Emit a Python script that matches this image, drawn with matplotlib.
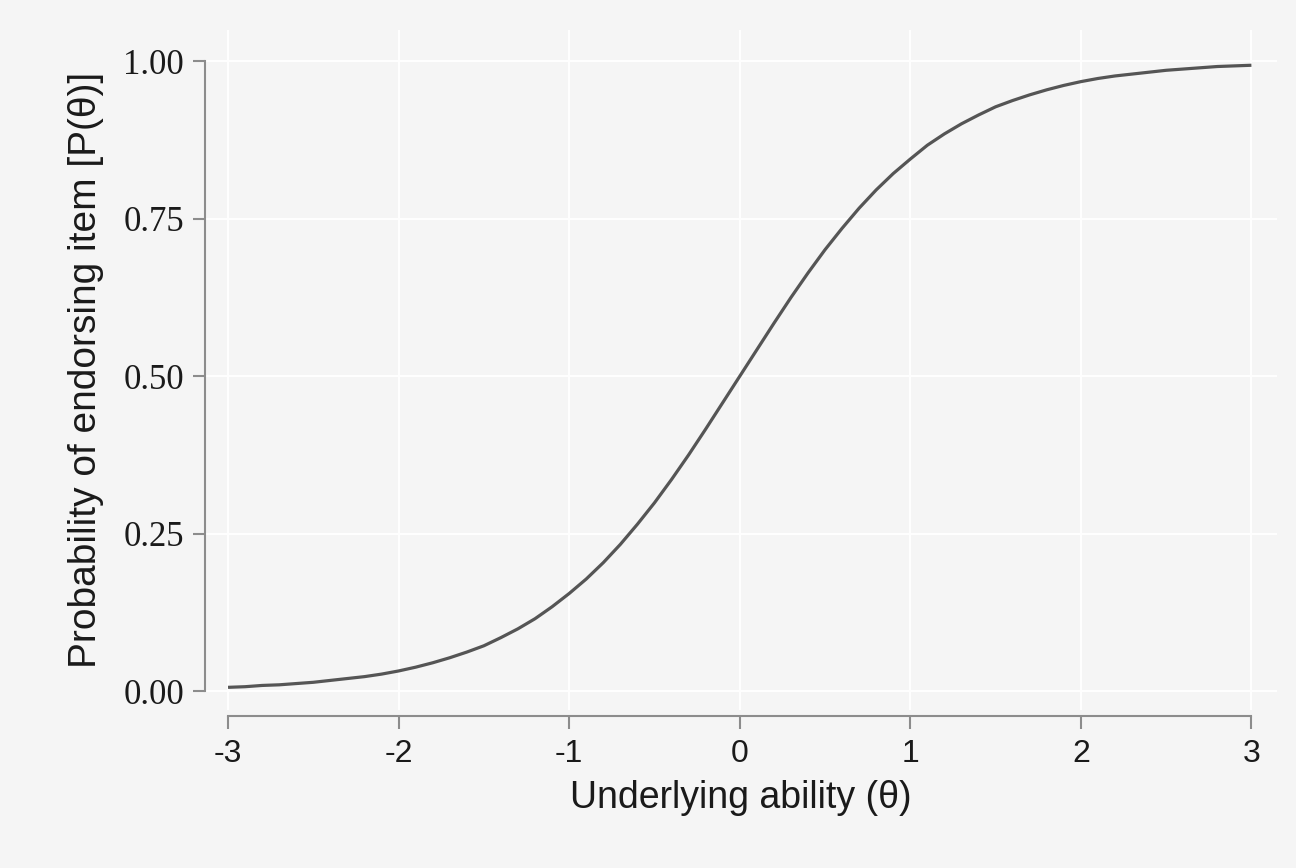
"""
Item characteristic curve (2PL, a = 1.7, b = 0)
"""
import matplotlib
matplotlib.use('Agg')
import matplotlib.pyplot as plt

plt.rcParams['axes.unicode_minus'] = False

BG = '#f5f5f5'
LINE = '#555555'
AXIS = '#8c8c8c'
TEXT = '#1a1a1a'

# values
theta = [-3.0, -2.9, -2.8, -2.7, -2.6, -2.5, -2.4, -2.3, -2.2, -2.1, -2.0,
         -1.9, -1.8, -1.7, -1.6, -1.5, -1.4, -1.3, -1.2, -1.1, -1.0,
         -0.9, -0.8, -0.7, -0.6, -0.5, -0.4, -0.3, -0.2, -0.1, 0.0,
         0.1, 0.2, 0.3, 0.4, 0.5, 0.6, 0.7, 0.8, 0.9, 1.0,
         1.1, 1.2, 1.3, 1.4, 1.5, 1.6, 1.7, 1.8, 1.9, 2.0,
         2.1, 2.2, 2.3, 2.4, 2.5, 2.6, 2.7, 2.8, 2.9, 3.0]
prob = [0.006, 0.007, 0.009, 0.010, 0.012, 0.014, 0.017, 0.020, 0.023, 0.027, 0.032,
        0.038, 0.045, 0.053, 0.062, 0.072, 0.085, 0.099, 0.115, 0.134, 0.155,
        0.178, 0.204, 0.233, 0.265, 0.299, 0.336, 0.375, 0.416, 0.458, 0.500,
        0.542, 0.584, 0.625, 0.664, 0.701, 0.735, 0.767, 0.796, 0.822, 0.845,
        0.867, 0.885, 0.901, 0.915, 0.928, 0.938, 0.947, 0.955, 0.962, 0.968,
        0.973, 0.977, 0.980, 0.983, 0.986, 0.988, 0.990, 0.992, 0.993, 0.994]

x_ticks = [-3, -2, -1, 0, 1, 2, 3]
y_ticks = [0.0, 0.25, 0.50, 0.75, 1.00]
y_tick_labels = ['0.00', '0.25', '0.50', '0.75', '1.00']

fig = plt.figure(figsize=(12.96, 8.68), dpi=100)
fig.patch.set_facecolor(BG)
ax = fig.add_axes([205 / 1296, 1 - 710 / 868, 1072 / 1296, 680 / 868])
ax.set_facecolor(BG)

ax.set_xlim(-3.135, 3.15)
ax.set_ylim(-0.03, 1.05)

# grid
ax.set_xticks(x_ticks)
ax.set_yticks(y_ticks)
ax.set_yticklabels(y_tick_labels)
ax.grid(True, color='white', linewidth=1.3, zorder=0)
ax.set_axisbelow(True)

ax.plot(theta, prob, color=LINE, linewidth=2.3, solid_joinstyle='round',
        solid_capstyle='butt', zorder=3)

# range-frame spines
for s in ['top', 'right']:
    ax.spines[s].set_visible(False)
ax.spines['left'].set_bounds(0, 1)
ax.spines['bottom'].set_bounds(-3, 3)
ax.spines['bottom'].set_position(('outward', 4))
for s in ['left', 'bottom']:
    ax.spines[s].set_color(AXIS)
    ax.spines[s].set_linewidth(1.5)

ax.tick_params(axis='both', colors=AXIS, length=9, width=1.5)
ax.tick_params(axis='y', pad=6, labelcolor=TEXT)
ax.tick_params(axis='x', pad=8, labelcolor=TEXT)
for lab in ax.get_yticklabels():
    lab.set_fontfamily('Liberation Serif')
    lab.set_fontsize(25)
for lab in ax.get_xticklabels():
    lab.set_fontfamily('Liberation Sans')
    lab.set_fontsize(23)

ax.set_xlabel('Underlying ability (θ)', fontsize=27, family='Liberation Sans',
              color=TEXT, labelpad=8)
ax.set_ylabel('Probability of endorsing item [P(θ)]', fontsize=28,
              family='Liberation Sans', color=TEXT, labelpad=14)

fig.savefig('out.png', dpi=100, facecolor=BG)
plt.close(fig)
